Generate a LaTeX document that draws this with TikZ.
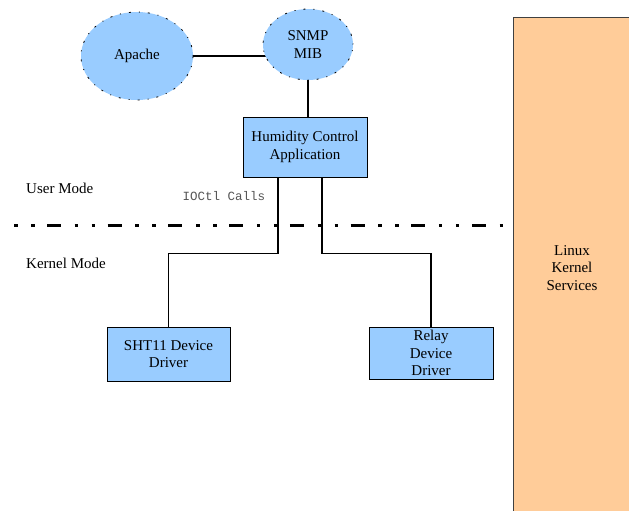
\documentclass[tikz,border=0pt]{standalone}
\usepackage{fontspec}
\setmainfont{Liberation Serif}
\setmonofont{Liberation Mono}
\usepackage{xcolor}
\definecolor{blu}{HTML}{99CCFF}
\definecolor{org}{HTML}{FFCC99}
\definecolor{mute}{HTML}{555555}
\usepackage{tikz}
\usetikzlibrary{shapes.geometric,backgrounds,calc}
\newcommand\diafont{\fontsize{15}{17.5}\selectfont}
\tikzset{
  oval/.style={ellipse,draw=black,fill=blu,line width=0.8pt,dash pattern=on 1pt off 8pt on 2pt off 8pt,align=center,font=\diafont,inner sep=0pt},
  box/.style={draw=black,fill=blu,line width=0.9pt,align=center,font=\diafont,inner sep=0pt},
  ksbox/.style={draw=black!75,fill=org,line width=0.9pt,align=center,font=\diafont,inner sep=0pt},
  lab/.style={font=\diafont,anchor=west,inner sep=0pt},
  wire/.style={draw=black,line width=1.1pt},
  modeline/.style={draw=black,line width=3pt,dash pattern=on 3.5pt off 13.5pt on 3.5pt off 12.5pt on 14pt off 13.7pt},
}
\begin{document}
\begin{tikzpicture}[x=1pt,y=-1pt]
\useasboundingbox (0,0) rectangle (629,511);
% kernel side
\node[ksbox,minimum width=118pt,minimum height=502pt] (lks) at (572,268) {Linux\\Kernel\\Services};
% user space
\node[oval,minimum width=112pt,minimum height=88pt] (apache) at (137,56) {Apache};
\node[oval,minimum width=90pt,minimum height=71pt] (snmp) at (308,44.5) {SNMP\\MIB};
\node[box,minimum width=124pt,minimum height=60pt] (hca) at (305,147) {Humidity Control\\Application};
% drivers
\node[box,minimum width=123pt,minimum height=54pt] (sht) at (168.5,354) {SHT11 Device\\Driver};
\node[box,minimum width=124pt,minimum height=52pt] (relay) at (431,353) {Relay\\Device\\Driver};
\node[lab] (um) at (26,188) {User Mode};
\node[lab] (km) at (26,263) {Kernel Mode};
\node[font=\ttfamily\fontsize{12.5}{14}\selectfont,text=mute,inner sep=0pt] (ioctl) at (224,196) {IOCtl Calls};
\coordinate (divL) at (14,225.5);
\coordinate (divR) at (503,225.5);
\draw[modeline] (divL) -- (divR);
\begin{scope}[on background layer]
\draw[wire] (apache) -- (apache -| snmp);
\end{scope}
\draw[wire] (snmp.south) -- (snmp.south |- hca.north);
\draw[wire] ([xshift=-27pt]hca.south) -- ++(0,76) -| (sht.north);
\draw[wire] ([xshift=17pt]hca.south) -- ++(0,76) -| (relay.north);
\end{tikzpicture}
\end{document}
